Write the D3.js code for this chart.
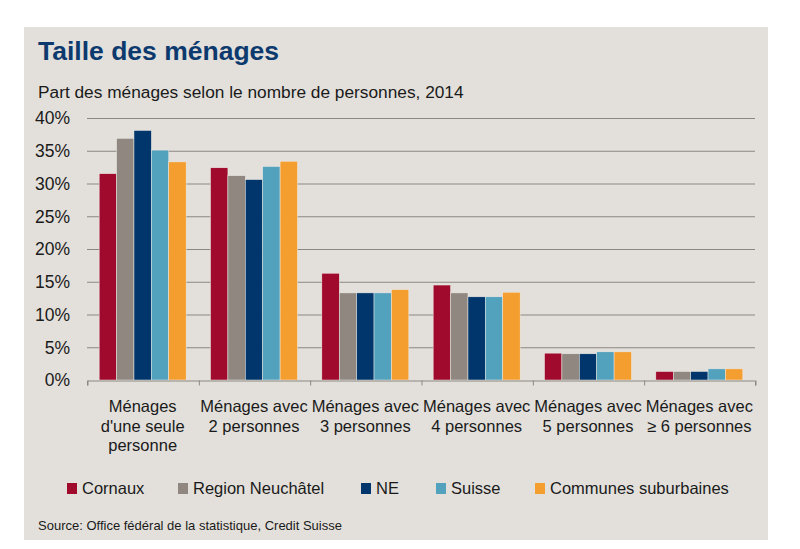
<!DOCTYPE html>
<html>
<head>
    <meta charset="utf-8">
    <title>Taille des ménages</title>
    <script src="https://d3js.org/d3.v7.min.js"></script>
    <style>
        body { margin: 0; background: #ffffff; }
        svg { font-family: "Liberation Sans", Arial, sans-serif; }
        .grid line { stroke: #8c8782; stroke-width: 1; }
        .axis path, .axis line { stroke: #8c8782; }
        .tick-label { font-size: 16.5px; fill: #1a1a1a; }
    </style>
</head>
<body>
    <div id="chart"></div>
    <script>
        // Household size categories (x axis)
        const categories = [
            ["Ménages", "d'une seule", "personne"],
            ["Ménages avec", "2 personnes"],
            ["Ménages avec", "3 personnes"],
            ["Ménages avec", "4 personnes"],
            ["Ménages avec", "5 personnes"],
            ["Ménages avec", "≥ 6 personnes"]
        ];

        const seriesNames = ["Cornaux", "Region Neuchâtel", "NE", "Suisse", "Communes suburbaines"];
        const seriesColors = ["#a00a2c", "#8f8780", "#00366b", "#52a1bd", "#f59e30"];

        // values in percent
        const cornaux = [31.5, 32.4, 16.3, 14.5, 4.1, 1.3];
        const regionNeuchatel = [36.9, 31.2, 13.3, 13.3, 4.0, 1.3];
        const ne = [38.1, 30.6, 13.3, 12.7, 4.0, 1.3];
        const suisse = [35.1, 32.6, 13.3, 12.7, 4.3, 1.7];
        const communes = [33.3, 33.4, 13.8, 13.4, 4.3, 1.7];

        const yTicks = [0, 5, 10, 15, 20, 25, 30, 35, 40];

        const seriesValues = [cornaux, regionNeuchatel, ne, suisse, communes];

        const W = 800, H = 549;
        const plot = { left: 87, right: 755, top: 118, bottom: 380 };

        const svg = d3.select("#chart").append("svg")
            .attr("width", W)
            .attr("height", H);

        // panel background
        svg.append("rect")
            .attr("x", 24).attr("y", 27)
            .attr("width", 744).attr("height", 513)
            .attr("fill", "#e3e0db");

        svg.append("text")
            .attr("x", 38).attr("y", 60)
            .attr("font-size", 26.5)
            .attr("font-weight", "bold")
            .attr("fill", "#0d3a6e")
            .text("Taille des ménages");

        svg.append("text")
            .attr("x", 38).attr("y", 98)
            .attr("font-size", 17.3)
            .attr("fill", "#1a1a1a")
            .text("Part des ménages selon le nombre de personnes, 2014");

        const x0 = d3.scaleBand()
            .domain(d3.range(categories.length))
            .range([plot.left, plot.right])
            .paddingInner(0)
            .paddingOuter(0);

        const x1 = d3.scaleBand()
            .domain(d3.range(seriesNames.length))
            .range([0, x0.bandwidth()])
            .paddingOuter(0.7)
            .paddingInner(0);

        const y = d3.scaleLinear()
            .domain([0, 40])
            .range([plot.bottom, plot.top]);

        // gridlines
        svg.append("g")
            .attr("class", "grid")
            .selectAll("line")
            .data(yTicks.filter(d => d > 0))
            .join("line")
            .attr("x1", plot.left)
            .attr("x2", plot.right)
            .attr("y1", d => y(d) + 0.5)
            .attr("y2", d => y(d) + 0.5);

        // y tick labels
        svg.append("g")
            .selectAll("text")
            .data(yTicks)
            .join("text")
            .attr("class", "tick-label")
            .attr("x", 70)
            .attr("y", d => y(d))
            .attr("dy", "0.36em")
            .attr("text-anchor", "end")
            .style("font-size", "17.5px")
            .text(d => d + "%");

        // bars
        const groups = svg.append("g")
            .selectAll("g")
            .data(categories.map((c, i) => i))
            .join("g")
            .attr("transform", i => "translate(" + x0(i) + ",0)");

        groups.selectAll("rect")
            .data(i => seriesValues.map((vals, s) => ({ s: s, v: vals[i] })))
            .join("rect")
            .attr("x", d => x1(d.s))
            .attr("y", d => y(d.v))
            .attr("width", x1.bandwidth())
            .attr("height", d => y(0) - y(d.v))
            .attr("fill", d => seriesColors[d.s])
            .attr("stroke", "#eeebe6")
            .attr("stroke-width", 0.5);

        // x axis
        const xAxis = d3.scaleLinear()
            .domain([0, categories.length])
            .range([plot.left, plot.right]);

        svg.append("g")
            .attr("class", "axis")
            .attr("transform", "translate(0," + (plot.bottom + 0.5) + ")")
            .call(d3.axisBottom(xAxis).ticks(categories.length).tickSize(5).tickSizeOuter(5).tickFormat(""))
            .call(g => g.selectAll(".tick line").attr("transform", "translate(0.5,0)"));

        // category labels
        const labels = svg.append("g")
            .selectAll("text")
            .data(categories)
            .join("text")
            .attr("class", "tick-label")
            .attr("text-anchor", "middle")
            .attr("x", (d, i) => x0(i) + x0.bandwidth() / 2)
            .attr("y", 412);

        labels.selectAll("tspan")
            .data(d => d)
            .join("tspan")
            .attr("x", function () { return d3.select(this.parentNode).attr("x"); })
            .attr("dy", (d, i) => i === 0 ? 0 : 19.5)
            .text(d => d);

        // legend
        const legendX = [67, 178, 361, 436, 535];
        const legend = svg.append("g")
            .selectAll("g")
            .data(seriesNames)
            .join("g")
            .attr("transform", (d, i) => "translate(" + legendX[i] + ",483)");

        legend.append("rect")
            .attr("width", 10)
            .attr("height", 11)
            .attr("fill", (d, i) => seriesColors[i]);

        legend.append("text")
            .attr("class", "tick-label")
            .attr("x", 15)
            .attr("y", 5.5)
            .attr("dy", "0.36em")
            .text(d => d);

        svg.append("text")
            .attr("x", 38).attr("y", 530)
            .attr("font-size", 13)
            .attr("fill", "#1a1a1a")
            .text("Source: Office fédéral de la statistique, Credit Suisse");
    </script>
</body>
</html>
